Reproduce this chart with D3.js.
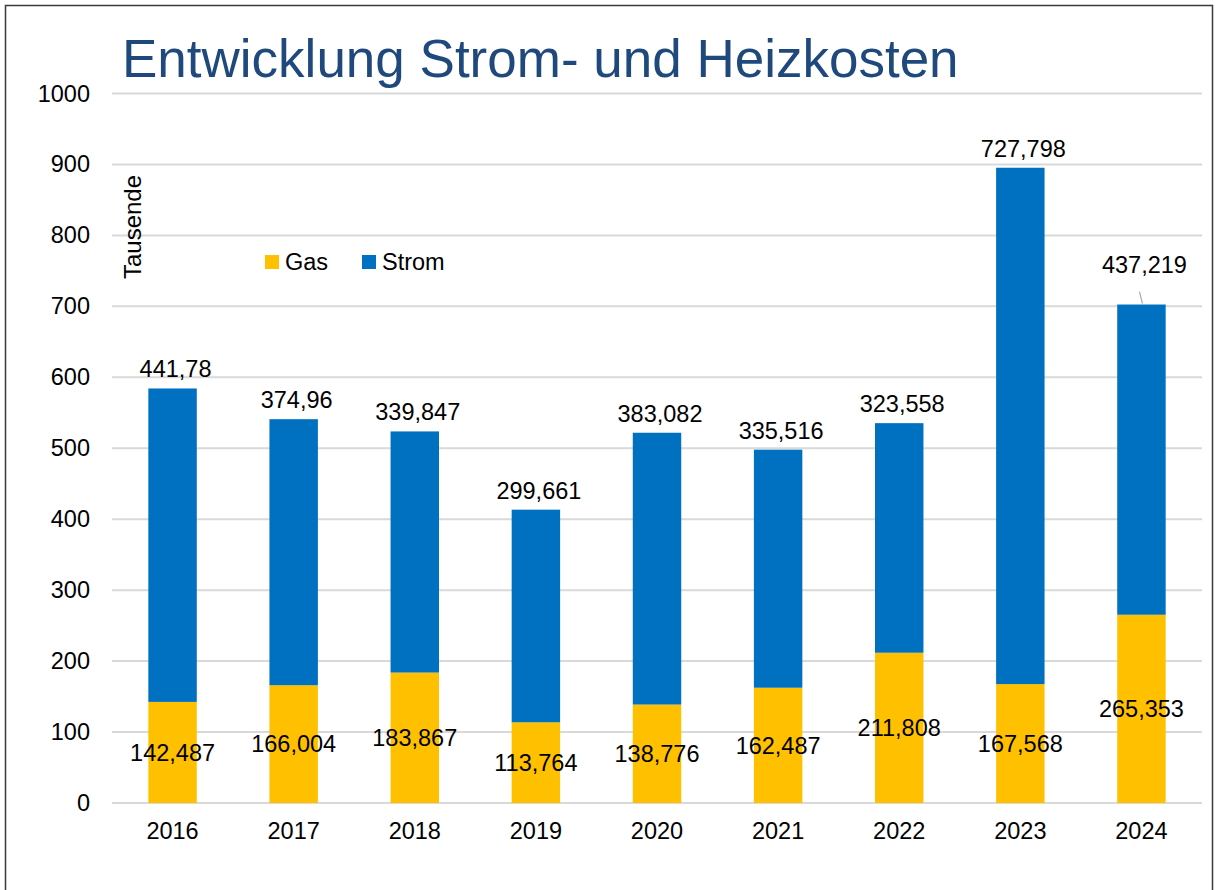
<!DOCTYPE html>
<html>
<head>
<meta charset="utf-8">
<script src="https://d3js.org/d3.v7.min.js"></script>
<style>
  html, body { margin: 0; padding: 0; background: #fff; }
  svg { display: block; font-family: "Liberation Sans", Arial, sans-serif; }
</style>
</head>
<body>
<div id="chart"></div>
<script>
// chart data (Tausende)
const years = ["2016", "2017", "2018", "2019", "2020", "2021", "2022", "2023", "2024"];
const gas   = [142.487, 166.004, 183.867, 113.764, 138.776, 162.487, 211.808, 167.568, 265.353];
const strom = [441.78, 374.96, 339.847, 299.661, 383.082, 335.516, 323.558, 727.798, 437.219];
const yTicks = [0, 100, 200, 300, 400, 500, 600, 700, 800, 900, 1000];

const W = 1216, H = 890;
const svg = d3.select("#chart").append("svg").attr("width", W).attr("height", H);

// outer frame
svg.append("rect")
    .attr("x", 5.5).attr("y", 5.5)
    .attr("width", 1207).attr("height", 900)
    .attr("fill", "none").attr("stroke", "#3a3a3a").attr("stroke-width", 1.5);

svg.append("text")
    .attr("x", 122).attr("y", 77)
    .attr("font-size", 53).attr("fill", "#1F497D")
    .text("Entwicklung Strom- und Heizkosten");

const x = d3.scaleBand().domain(years).range([112, 1202]).paddingInner(0.6).paddingOuter(0.3);
const y = d3.scaleLinear().domain([0, 1000]).range([803, 93.5]);

// gridlines
svg.append("g").selectAll("line")
    .data(yTicks).enter().append("line")
    .attr("x1", 112).attr("x2", 1202)
    .attr("y1", d => y(d)).attr("y2", d => y(d))
    .attr("stroke", "#d9d9d9").attr("stroke-width", 2);

// y axis labels
const yAxis = svg.append("g")
    .attr("transform", "translate(90,0)")
    .call(d3.axisLeft(y).tickValues(yTicks).tickSize(0).tickPadding(0).tickFormat(d3.format("d")));
yAxis.select(".domain").remove();
yAxis.selectAll("text").attr("font-size", 23.5).attr("fill", "#000")
    .attr("font-family", "Liberation Sans, Arial, sans-serif");

// x axis labels
const xAxis = svg.append("g")
    .attr("transform", "translate(0,803)")
    .call(d3.axisBottom(x).tickSize(0).tickPadding(19));
xAxis.select(".domain").remove();
xAxis.selectAll("text").attr("font-size", 23.5).attr("fill", "#000")
    .attr("font-family", "Liberation Sans, Arial, sans-serif");

const rows = years.map((yr, i) => ({ yr, gas: gas[i], strom: strom[i] }));
const stack = d3.stack().keys(["gas", "strom"])(rows);
const colors = { gas: "#FFC000", strom: "#0070C0" };

svg.append("g").selectAll("g")
    .data(stack).enter().append("g")
    .attr("fill", d => colors[d.key])
    .selectAll("rect")
    .data(d => d).enter().append("rect")
    .attr("x", d => x(d.data.yr))
    .attr("width", x.bandwidth())
    .attr("y", d => y(d[1]))
    .attr("height", d => y(d[0]) - y(d[1]));

const fmt = v => String(v).replace(".", ",");

// gas labels, centred in segment
svg.append("g").selectAll("text")
    .data(rows).enter().append("text")
    .attr("x", d => x(d.yr) + x.bandwidth() / 2)
    .attr("y", d => y(d.gas / 2))
    .attr("dy", "0.35em")
    .attr("text-anchor", "middle")
    .attr("font-size", 23.5)
    .text(d => fmt(d.gas));

// strom labels above bar; last one is lifted with a leader line
const lift = i => (i === years.length - 1 ? 21 : 0);
svg.append("g").selectAll("text")
    .data(rows).enter().append("text")
    .attr("x", d => x(d.yr) + x.bandwidth() / 2 + 3)
    .attr("y", (d, i) => y(d.gas + d.strom) - 11 - lift(i))
    .attr("text-anchor", "middle")
    .attr("font-size", 23.5)
    .text(d => fmt(d.strom));

const last = rows[rows.length - 1];
svg.append("line")
    .attr("x1", x(last.yr) + x.bandwidth() / 2 - 2)
    .attr("y1", y(last.gas + last.strom) - 13)
    .attr("x2", x(last.yr) + x.bandwidth() / 2 + 1)
    .attr("y2", y(last.gas + last.strom) - 1)
    .attr("stroke", "#a6a6a6").attr("stroke-width", 1.2);

// axis title
svg.append("text")
    .attr("transform", "translate(141,227) rotate(-90)")
    .attr("text-anchor", "middle")
    .attr("font-size", 24)
    .text("Tausende");

// legend
const legend = svg.append("g");
const items = [["Gas", colors.gas, 265], ["Strom", colors.strom, 362]];
items.forEach(([name, col, lx]) => {
  legend.append("rect").attr("x", lx).attr("y", 255).attr("width", 14).attr("height", 14).attr("fill", col);
  legend.append("text").attr("x", lx + 20).attr("y", 270).attr("font-size", 23.5).text(name);
});
</script>
</body>
</html>
